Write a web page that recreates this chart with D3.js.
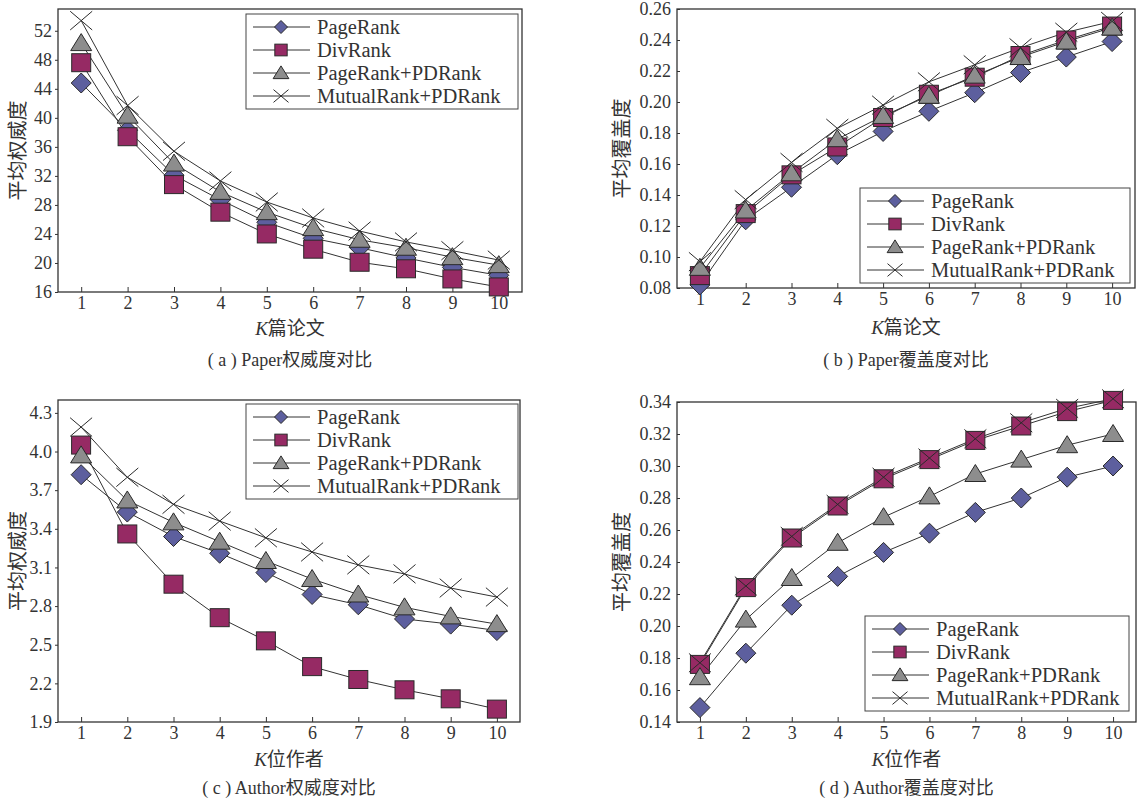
<!DOCTYPE html>
<html lang="zh">
<head>
<meta charset="UTF-8">
<title>PDRank comparison</title>
<script src="https://d3js.org/d3.v7.min.js"></script>
<style>
    body { margin: 0; background: #fff; }
    text { font-family: "Liberation Serif", "DejaVu Serif", serif; fill: #333; }
    .cjk { font-family: "Noto Sans CJK SC", sans-serif; }
</style>
</head>
<body>
<script>

var K = [1, 2, 3, 4, 5, 6, 7, 8, 9, 10]
var seriesNames = ["PageRank", "DivRank", "PageRank+PDRank", "MutualRank+PDRank"]

// (a) Paper authority
var paperAuthPR     = [44.8, 38.3, 32.1, 28.7, 25.6, 23.4, 22.1, 20.7, 19.4, 18.3]
var paperAuthDiv    = [47.6, 37.4, 30.8, 27.0, 24.0, 21.9, 20.1, 19.2, 17.8, 16.7]
var paperAuthPRPD   = [50.3, 40.3, 33.7, 29.8, 27.0, 24.8, 23.2, 22.1, 20.8, 19.7]
var paperAuthMutual = [53.4, 41.7, 35.4, 31.3, 28.4, 26.2, 24.4, 22.9, 21.7, 20.4]

// (b) Paper coverage
var paperCovPR     = [0.082, 0.124, 0.145, 0.166, 0.181, 0.194, 0.206, 0.219, 0.229, 0.239]
var paperCovDiv    = [0.088, 0.128, 0.153, 0.171, 0.190, 0.205, 0.216, 0.230, 0.240, 0.249]
var paperCovPRPD   = [0.093, 0.130, 0.154, 0.176, 0.191, 0.204, 0.217, 0.229, 0.239, 0.248]
var paperCovMutual = [0.097, 0.137, 0.161, 0.183, 0.198, 0.213, 0.224, 0.235, 0.245, 0.252]

// (c) Author authority
var authorAuthPR     = [3.82, 3.53, 3.34, 3.21, 3.06, 2.89, 2.81, 2.70, 2.66, 2.61]
var authorAuthDiv    = [4.05, 3.36, 2.97, 2.71, 2.53, 2.33, 2.23, 2.15, 2.08, 2.00]
var authorAuthPRPD   = [3.97, 3.62, 3.45, 3.30, 3.15, 3.01, 2.89, 2.79, 2.72, 2.66]
var authorAuthMutual = [4.19, 3.80, 3.59, 3.46, 3.33, 3.22, 3.12, 3.05, 2.94, 2.87]

// (d) Author coverage
var authorCovPR     = [0.149, 0.183, 0.213, 0.231, 0.246, 0.258, 0.271, 0.280, 0.293, 0.300]
var authorCovDiv    = [0.176, 0.224, 0.255, 0.275, 0.292, 0.304, 0.316, 0.325, 0.334, 0.341]
var authorCovPRPD   = [0.168, 0.204, 0.230, 0.252, 0.268, 0.281, 0.295, 0.304, 0.313, 0.320]
var authorCovMutual = [0.177, 0.225, 0.256, 0.276, 0.293, 0.305, 0.317, 0.327, 0.336, 0.342]

var ticksA = [16, 20, 24, 28, 32, 36, 40, 44, 48, 52]
var ticksB = [0.08, 0.10, 0.12, 0.14, 0.16, 0.18, 0.20, 0.22, 0.24, 0.26]
var ticksC = [1.9, 2.2, 2.5, 2.8, 3.1, 3.4, 3.7, 4.0, 4.3]
var ticksD = [0.14, 0.16, 0.18, 0.20, 0.22, 0.24, 0.26, 0.28, 0.30, 0.32, 0.34]

var width = 1142, height = 799
var svg = d3.select("body").append("svg")
    .attr("width", width)
    .attr("height", height)

var fills = ["#5d5f9e", "#962a64", "#8d8d8d", "none"]
var lineColor = "#333"

// marker for a given series, s = full width
function marker(g, type, x, y, s) {
    var h = s / 2
    if (type == 0) {
        g.append("path")
            .attr("d", "M" + x + "," + (y - h) + "L" + (x + h) + "," + y + "L" + x + "," + (y + h) + "L" + (x - h) + "," + y + "Z")
            .attr("fill", fills[0]).attr("stroke", "#2a2a2a").attr("stroke-width", 1)
    } else if (type == 1) {
        g.append("rect")
            .attr("x", x - h * 0.95).attr("y", y - h * 0.9)
            .attr("width", s * 0.95).attr("height", s * 0.9)
            .attr("fill", fills[1]).attr("stroke", "#2a2a2a").attr("stroke-width", 1)
    } else if (type == 2) {
        g.append("path")
            .attr("d", "M" + x + "," + (y - h * 0.95) + "L" + (x + h * 1.05) + "," + (y + h * 0.75) + "L" + (x - h * 1.05) + "," + (y + h * 0.75) + "Z")
            .attr("fill", fills[2]).attr("stroke", "#2a2a2a").attr("stroke-width", 1)
    } else {
        g.append("path")
            .attr("d", "M" + (x - h) + "," + (y - h * 0.85) + "L" + (x + h) + "," + (y + h * 0.85) +
                       "M" + (x + h) + "," + (y - h * 0.85) + "L" + (x - h) + "," + (y + h * 0.85))
            .attr("fill", "none").attr("stroke", "#2a2a2a").attr("stroke-width", 1)
    }
}

function drawPanel(p) {
    var g = svg.append("g")
    var x = d3.scaleLinear().domain([0.5, 10.5]).range([p.x0, p.x1])
    var y = d3.scaleLinear().domain(p.ydomain).range([p.y1, p.y0])

    // frame
    g.append("rect")
        .attr("x", p.x0).attr("y", p.y0)
        .attr("width", p.x1 - p.x0).attr("height", p.y1 - p.y0)
        .attr("fill", "none").attr("stroke", "#333").attr("stroke-width", 1.3)

    // y axis
    var yAxis = d3.axisLeft(y).tickValues(p.yticks).tickFormat(d3.format(p.fmt))
        .tickSize(p.yin ? -3 : 3).tickPadding(p.yin ? 6 : 3)
    var ya = g.append("g").attr("transform", "translate(" + p.x0 + ",0)").call(yAxis)
        .attr("font-family", null)
    ya.select(".domain").remove()
    ya.selectAll("line").attr("stroke", "#333")
    ya.selectAll("text").attr("font-size", 18).attr("fill", "#444")

    // x axis, ticks pointing inward
    var xAxis = d3.axisBottom(x).tickValues(K).tickSize(-5).tickPadding(4)
    var xa = g.append("g").attr("transform", "translate(0," + p.y1 + ")").call(xAxis)
        .attr("font-family", null)
    xa.select(".domain").remove()
    xa.selectAll("line").attr("stroke", "#333")
    xa.selectAll("text").attr("font-size", 18).attr("fill", "#444")

    var line = d3.line().x(function (d, i) { return x(K[i]) }).y(function (d) { return y(d) })

    p.series.forEach(function (s) {
        g.append("path").attr("d", line(s))
            .attr("fill", "none").attr("stroke", lineColor).attr("stroke-width", 1)
    })
    p.series.forEach(function (s, k) {
        s.forEach(function (v, i) {
            marker(g, k, x(K[i]), y(v), k == 3 ? 22 : 20)
        })
    })

    // legend
    var lg = g.append("g").attr("transform", "translate(" + p.lx + "," + p.ly + ")")
    lg.append("rect").attr("x", 0).attr("y", 0).attr("width", p.lw).attr("height", 95)
        .attr("fill", "#fff").attr("stroke", "#444").attr("stroke-width", 1)
    seriesNames.forEach(function (name, k) {
        var ry = 13 + k * 23
        lg.append("line").attr("x1", 7).attr("x2", 64).attr("y1", ry).attr("y2", ry)
            .attr("stroke", "#333").attr("stroke-width", 1)
        marker(lg, k, 35, ry, k == 2 || k == 3 ? 15 : 13)
        lg.append("text").attr("x", 71).attr("y", ry).attr("dy", "0.33em")
            .attr("font-size", 20.5).attr("fill", "#333").text(name)
    })

    // y label
    svg.append("text").attr("class", "cjk")
        .attr("transform", "translate(" + p.ylx + "," + ((p.y0 + p.y1) / 2) + ") rotate(-90)")
        .attr("text-anchor", "middle").attr("dy", "0.35em")
        .attr("font-size", 20).attr("fill", "#444").text(p.ylabel)

    // x label
    var cx = (p.x0 + p.x1) / 2
    var xl = svg.append("text").attr("x", cx).attr("y", p.y1 + p.xlOff)
        .attr("text-anchor", "middle").attr("font-size", 19).attr("fill", "#444")
    xl.append("tspan").attr("font-style", "italic").text("K")
    xl.append("tspan").style("font-family", "'Noto Sans CJK SC', sans-serif").text(p.xlabel)

    // caption
    var cap = svg.append("text").attr("x", cx).attr("y", p.y1 + p.capOff)
        .attr("text-anchor", "middle").attr("font-size", 18).attr("fill", "#333")
    cap.append("tspan").text(p.caption[0])
    cap.append("tspan").style("font-family", "'Noto Sans CJK SC', sans-serif").text(p.caption[1])
}

drawPanel({
    x0: 58, x1: 522, y0: 9, y1: 292, ydomain: [16, 55], yticks: ticksA, fmt: "d", yin: false,
    series: [paperAuthPR, paperAuthDiv, paperAuthPRPD, paperAuthMutual],
    lx: 246, ly: 14, lw: 272, ylx: 18, ylabel: "平均权威度", xlabel: "篇论文",
    xlOff: 43, capOff: 74, caption: ["( a ) Paper", "权威度对比"]
})
drawPanel({
    x0: 677, x1: 1135, y0: 9, y1: 288, ydomain: [0.08, 0.26], yticks: ticksB, fmt: ".2f", yin: true,
    series: [paperCovPR, paperCovDiv, paperCovPRPD, paperCovMutual],
    lx: 860, ly: 188, lw: 270, ylx: 622, ylabel: "平均覆盖度", xlabel: "篇论文",
    xlOff: 46, capOff: 78, caption: ["( b ) Paper", "覆盖度对比"]
})
drawPanel({
    x0: 58, x1: 520, y0: 400, y1: 722, ydomain: [1.9, 4.4], yticks: ticksC, fmt: ".1f", yin: false,
    series: [authorAuthPR, authorAuthDiv, authorAuthPRPD, authorAuthMutual],
    lx: 246, ly: 404, lw: 272, ylx: 18, ylabel: "平均权威度", xlabel: "位作者",
    xlOff: 44, capOff: 72, caption: ["( c ) Author", "权威度对比"]
})
drawPanel({
    x0: 677, x1: 1136, y0: 402, y1: 722, ydomain: [0.14, 0.34], yticks: ticksD, fmt: ".2f", yin: true,
    series: [authorCovPR, authorCovDiv, authorCovPRPD, authorCovMutual],
    lx: 865, ly: 616, lw: 264, ylx: 622, ylabel: "平均覆盖度", xlabel: "位作者",
    xlOff: 44, capOff: 72, caption: ["( d ) Author", "覆盖度对比"]
})

</script>
</body>
</html>
